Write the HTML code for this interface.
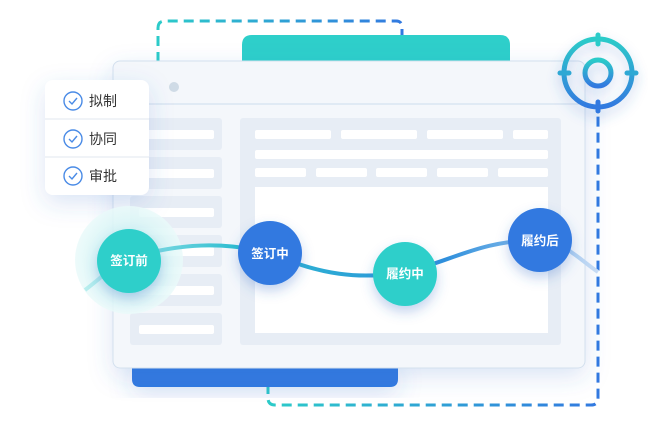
<!DOCTYPE html>
<html><head><meta charset="utf-8"><style>
html,body{margin:0;padding:0;background:#fff;width:648px;height:442px;overflow:hidden}
svg{display:block}
text{font-family:"Liberation Sans","Noto Sans CJK SC",sans-serif}
</style></head><body>
<svg width="648" height="442" viewBox="0 0 648 442" xmlns="http://www.w3.org/2000/svg">
<defs>
<linearGradient id="gd" x1="0" y1="0" x2="1" y2="0"><stop offset="0" stop-color="#2ccbc9"/><stop offset="1" stop-color="#3279e0"/></linearGradient>
<linearGradient id="gv" x1="0" y1="0" x2="0" y2="1"><stop offset="0" stop-color="#2ccbc9"/><stop offset="1" stop-color="#3279e0"/></linearGradient>
<linearGradient id="gc" x1="0" y1="0" x2="1" y2="0"><stop offset="0" stop-color="#b8eeee"/><stop offset="0.3" stop-color="#2bbcd0"/><stop offset="0.7" stop-color="#2e8fdc"/><stop offset="1" stop-color="#c8dcf5"/></linearGradient>
<filter id="sh" x="-30%" y="-30%" width="160%" height="170%"><feDropShadow dx="0" dy="8" stdDeviation="12" flood-color="#3a6fc8" flood-opacity="0.18"/></filter>
<filter id="sh2" x="-50%" y="-50%" width="200%" height="200%"><feDropShadow dx="0" dy="6" stdDeviation="6" flood-color="#3a6fc8" flood-opacity="0.3"/></filter>
<radialGradient id="halo"><stop offset="0.6" stop-color="#d6f5f5"/><stop offset="1" stop-color="#eafafa"/></radialGradient>
</defs>
<!-- top dashed -->
<path d="M158 62 V28 Q158 21 165 21 H396 Q402 21 402 27 V42" fill="none" stroke="url(#gd)" stroke-width="3" stroke-dasharray="10 6"/>
<!-- bottom dashed -->
<path d="M268 384 V398 Q268 405 275 405 H591 Q598 405 598 398 V110" fill="none" stroke="url(#gd)" stroke-width="3" stroke-dasharray="10 6"/>
<!-- bars -->
<path d="M242 62 V45 Q242 35 252 35 H500 Q510 35 510 45 V62 Z" fill="#2ecfca"/>
<path d="M132 360 H398 V379 Q398 387 390 387 H140 Q132 387 132 379 Z" fill="#3279e0" filter="url(#sh)"/>
<!-- window -->
<rect x="113" y="61" width="472" height="307" rx="7" fill="#f4f7fb" stroke="#d3e0ee" filter="url(#sh)"/>
<line x1="113" y1="104" x2="585" y2="104" stroke="#cddcec"/>
<circle cx="174" cy="87" r="5" fill="#cfdbe6"/>
<g fill="#e7edf5">
<rect x="130" y="118" width="92" height="32" rx="3"/><rect x="130" y="157" width="92" height="32" rx="3"/>
<rect x="130" y="196" width="92" height="32" rx="3"/><rect x="130" y="235" width="92" height="32" rx="3"/>
<rect x="130" y="274" width="92" height="32" rx="3"/><rect x="130" y="313" width="92" height="32" rx="3"/>
<rect x="240" y="118" width="321" height="227" rx="3"/>
</g>
<g fill="#fff">
<rect x="139" y="130" width="75" height="9" rx="2"/><rect x="139" y="169" width="75" height="9" rx="2"/>
<rect x="139" y="208" width="75" height="9" rx="2"/><rect x="139" y="247" width="75" height="9" rx="2"/>
<rect x="139" y="286" width="75" height="9" rx="2"/><rect x="139" y="325" width="75" height="9" rx="2"/>
<rect x="255" y="130" width="76" height="9" rx="2"/><rect x="341" y="130" width="76" height="9" rx="2"/>
<rect x="427" y="130" width="76" height="9" rx="2"/><rect x="513" y="130" width="35" height="9" rx="2"/>
<rect x="255" y="150" width="293" height="9" rx="2"/>
<rect x="255" y="168" width="51" height="9" rx="2"/><rect x="316" y="168" width="51" height="9" rx="2"/>
<rect x="376" y="168" width="51" height="9" rx="2"/><rect x="437" y="168" width="51" height="9" rx="2"/>
<rect x="498" y="168" width="50" height="9" rx="2"/>
<rect x="255" y="187" width="293" height="146"/>
</g>
<!-- checklist card -->
<rect x="45" y="80" width="104" height="115" rx="8" fill="#fff" filter="url(#sh)"/>
<line x1="45" y1="119" x2="149" y2="119" stroke="#f0f3f7" stroke-width="2"/>
<line x1="45" y1="157" x2="149" y2="157" stroke="#f0f3f7" stroke-width="2"/>
<g fill="none" stroke="#4a8be6" stroke-width="1.4">
<circle cx="73" cy="101" r="9"/><circle cx="73" cy="139" r="9"/><circle cx="73" cy="176" r="9"/>
<path d="M69 101 l3 3 l5 -6"/><path d="M69 139 l3 3 l5 -6"/><path d="M69 176 l3 3 l5 -6"/>
</g>
<g font-size="14" fill="#333"><text x="89" y="106">拟制</text><text x="89" y="144">协同</text><text x="89" y="181">审批</text></g>
<!-- target -->
<g filter="url(#sh2)">
<circle cx="598" cy="73" r="34" fill="none" stroke="url(#gv)" stroke-width="5"/>
<circle cx="598" cy="73" r="13" fill="none" stroke="url(#gv)" stroke-width="5"/>
<g stroke-width="5" stroke-linecap="round"><line x1="598" y1="35" x2="598" y2="44" stroke="#2ccbc9"/><line x1="598" y1="102" x2="598" y2="111" stroke="#3279e0"/>
<line x1="560" y1="73" x2="569" y2="73" stroke="#2ea8d4"/><line x1="627" y1="73" x2="636" y2="73" stroke="#2ea8d4"/></g>
</g>
<!-- halo -->
<circle cx="129" cy="260" r="54" fill="url(#halo)" opacity="0.85"/>
<!-- curve -->
<path d="M85 290 C105 275 115 262 140 255 C190 242 230 243 270 253 C320 275 360 280 405 272 C450 262 480 240 540 240 C565 242 580 260 598 272" fill="none" stroke="url(#gc)" stroke-width="4"/>
<!-- nodes -->
<g filter="url(#sh2)">
<circle cx="129" cy="261" r="32" fill="#2ecfca"/>
<circle cx="270" cy="253" r="32" fill="#3279e0"/>
<circle cx="405" cy="274" r="32" fill="#2ecfca"/>
<circle cx="540" cy="240" r="32" fill="#3279e0"/>
</g>
<g font-size="12.5" fill="#fff" text-anchor="middle" font-weight="bold">
<text x="129" y="265">签订前</text><text x="270" y="258">签订中</text><text x="405" y="278">履约中</text><text x="540" y="245">履约后</text>
</g>
</svg>
</body></html>
